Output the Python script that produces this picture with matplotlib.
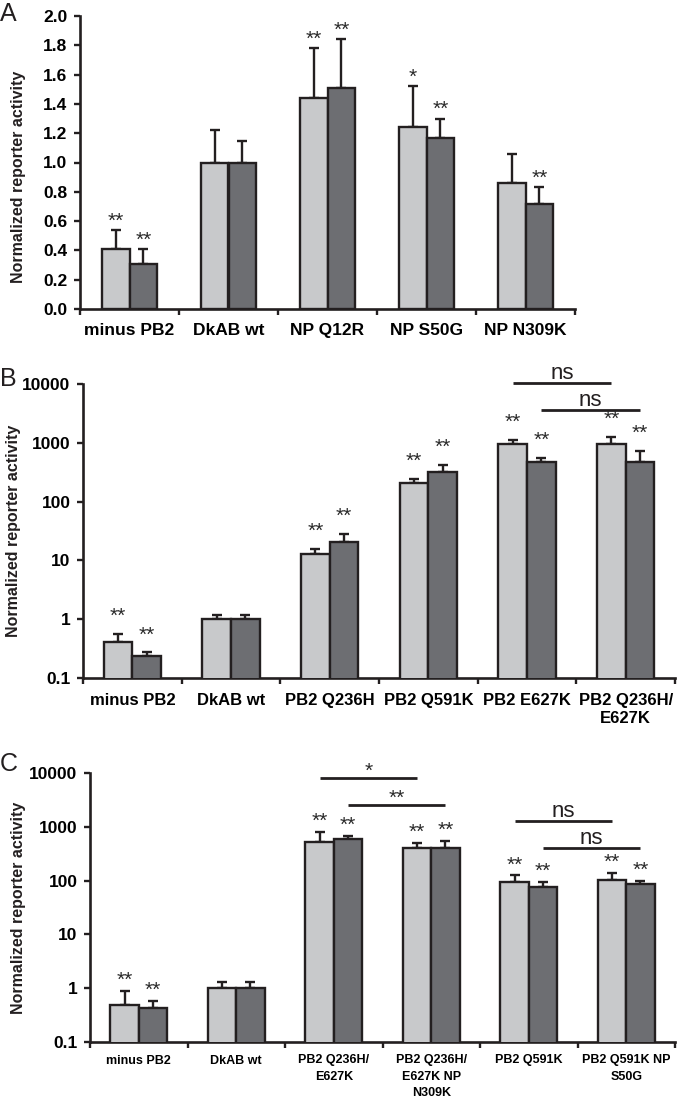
import numpy as np
import matplotlib
matplotlib.use('Agg')
from matplotlib import pyplot as plt
from matplotlib.ticker import NullLocator

plt.rcParams['font.family'] = ['Liberation Sans', 'DejaVu Sans']

LIGHT = '#c8c9cb'
DARK = '#6d6e72'
INK = '#231f20'
STAR = '#2a2a2a'

# panel A (linear)
a_labels = ['minus PB2', 'DkAB wt', 'NP Q12R', 'NP S50G', 'NP N309K']
a_light = [0.41, 1.00, 1.44, 1.24, 0.86]
a_light_err = [0.13, 0.22, 0.34, 0.28, 0.20]
a_dark = [0.31, 1.00, 1.51, 1.17, 0.72]
a_dark_err = [0.10, 0.15, 0.33, 0.13, 0.11]
a_light_sig = ['**', '', '**', '*', '']
a_dark_sig = ['**', '', '**', '**', '**']

# panel B (log)
b_labels = ['minus PB2', 'DkAB wt', 'PB2 Q236H', 'PB2 Q591K', 'PB2 E627K',
            'PB2 Q236H/\nE627K']
b_light = [0.41, 1.0, 12.9, 208, 955, 955]
b_light_err = [0.15, 0.17, 2.7, 34, 165, 305]
b_dark = [0.235, 1.0, 20.6, 318, 470, 470]
b_dark_err = [0.04, 0.17, 7.4, 102, 80, 255]
b_light_sig = ['**', '', '**', '**', '**', '**']
b_dark_sig = ['**', '', '**', '**', '**', '**']
# (group, bar, group, bar, height, text)
b_brackets = [(4, 0, 5, 0, 10500, 'ns'), (4, 1, 5, 1, 3600, 'ns')]

# panel C (log)
c_labels = ['minus PB2', 'DkAB wt', 'PB2 Q236H/\nE627K', 'PB2 Q236H/\nE627K NP\nN309K',
            'PB2 Q591K', 'PB2 Q591K NP\nS50G']
c_light = [0.49, 1.0, 520, 400, 94, 102]
c_light_err = [0.40, 0.30, 280, 100, 32, 36]
c_dark = [0.43, 1.0, 590, 400, 76, 87]
c_dark_err = [0.15, 0.30, 85, 150, 18, 11]
c_light_sig = ['**', '', '**', '**', '**', '**']
c_dark_sig = ['**', '', '**', '**', '**', '**']
c_brackets = [(2, 0, 3, 0, 8100, '*'), (2, 1, 3, 1, 2540, '**'),
              (4, 0, 5, 0, 1290, 'ns'), (4, 1, 5, 1, 400, 'ns')]

log_ticks = [0.1, 1, 10, 100, 1000, 10000]
log_ticklabels = ['0.1', '1', '10', '100', '1000', '10000']


def panel(ax, labels, light, light_err, dark, dark_err, light_sig, dark_sig,
          log=False, w=0.29, star_off=5, xfs=11.5, xpad=11, lsp=1.3, brackets=()):
    n = len(labels)
    c = np.arange(n) + 0.5
    xl = c - w / 2
    xd = c + w / 2
    if log:
        ax.set_yscale('log')
    ax.bar(xl, light, w, color=LIGHT, edgecolor=INK, linewidth=1.7, zorder=3)
    ax.bar(xd, dark, w, color=DARK, edgecolor=INK, linewidth=1.7, zorder=3)
    for x, v, e in [(xl, light, light_err), (xd, dark, dark_err)]:
        ax.errorbar(x, v, yerr=[np.zeros(n), e], fmt='none', ecolor=INK,
                    elinewidth=1.7, capsize=3.8, capthick=1.7, zorder=2)
    for x, v, e, s in [(xl, light, light_err, light_sig), (xd, dark, dark_err, dark_sig)]:
        for i in range(n):
            if s[i]:
                ax.annotate(s[i], (x[i], v[i] + e[i]), xytext=(0, star_off),
                            textcoords='offset points', ha='center', va='baseline',
                            fontsize=15, color=STAR, annotation_clip=False)
    for g1, b1, g2, b2, y, t in brackets:
        x1 = (xl, xd)[b1][g1]
        x2 = (xl, xd)[b2][g2]
        ax.plot([x1, x2], [y, y], color=INK, lw=2.0, clip_on=False, solid_capstyle='butt')
        if t == 'ns':
            ax.annotate(t, ((x1 + x2) / 2, y), xytext=(0, 3), textcoords='offset points',
                        ha='center', va='baseline', fontsize=16, color=INK,
                        annotation_clip=False)
        else:
            ax.annotate(t, ((x1 + x2) / 2, y), xytext=(0, 1), textcoords='offset points',
                        ha='center', va='baseline', fontsize=15, color=STAR,
                        annotation_clip=False)

    ax.set_xlim(0, n)
    ax.set_xticks(np.arange(n + 1))
    ax.set_xticklabels([])
    ax.set_xticks(c, labels, minor=True)
    ax.tick_params(axis='x', which='major', length=4, width=1.7, direction='out', color=INK)
    ax.tick_params(axis='x', which='minor', length=0, pad=xpad, labelsize=xfs)
    for t in ax.get_xticklabels(minor=True):
        t.set_fontweight('bold')
        t.set_linespacing(lsp)
        t.set_multialignment('center')
    if log:
        ax.set_ylim(0.1, 10000)
        ax.set_yticks(log_ticks, log_ticklabels)
        ax.yaxis.set_minor_locator(NullLocator())
    ax.tick_params(axis='y', length=4, width=1.7, direction='out', pad=5,
                   labelsize=12.5, color=INK)
    for t in ax.get_yticklabels():
        t.set_fontweight('bold')
    for s in ['top', 'right']:
        ax.spines[s].set_visible(False)
    for s in ['left', 'bottom']:
        ax.spines[s].set_linewidth(1.9)
        ax.spines[s].set_color(INK)
    ax.set_ylabel('Normalized reporter activity', fontsize=11.5, fontweight='bold', color=INK)


fig = plt.figure(figsize=(6.78, 11.05), dpi=100)
W, H = 678, 1105


def box(x0, x1, ytop, ybot):
    return [x0 / W, 1 - ybot / H, (x1 - x0) / W, (ybot - ytop) / H]


axA = fig.add_axes(box(80, 575, 16, 309))
panel(axA, a_labels, a_light, a_light_err, a_dark, a_dark_err, a_light_sig, a_dark_sig,
      w=0.28, star_off=2.5, xfs=12.5, xpad=10)
axA.set_ylim(0, 2.0)
axA.set_yticks(np.arange(0, 2.01, 0.2), [f'{v:.1f}' for v in np.arange(0, 2.01, 0.2)])
for t in axA.get_yticklabels():
    t.set_fontweight('bold')
axA.yaxis.set_label_coords(-0.109, 0.45)

axB = fig.add_axes(box(83, 675, 384, 678))
panel(axB, b_labels, b_light, b_light_err, b_dark, b_dark_err, b_light_sig, b_dark_sig,
      log=True, star_off=8.5, xfs=12, xpad=11, lsp=1.25, brackets=b_brackets)
axB.yaxis.set_label_coords(-0.105, 0.5)

axC = fig.add_axes(box(90, 675, 773, 1042))
panel(axC, c_labels, c_light, c_light_err, c_dark, c_dark_err, c_light_sig, c_dark_sig,
      log=True, star_off=3.5, xfs=9, xpad=9, lsp=1.45, brackets=c_brackets)
axC.yaxis.set_label_coords(-0.11, 0.5)

for letter, ytop in [('A', 2), ('B', 367), ('C', 752)]:
    fig.text(0.0, 1 - ytop / H, letter, fontsize=18, va='top', ha='left', color=INK)

fig.savefig('out.png', dpi=100)
